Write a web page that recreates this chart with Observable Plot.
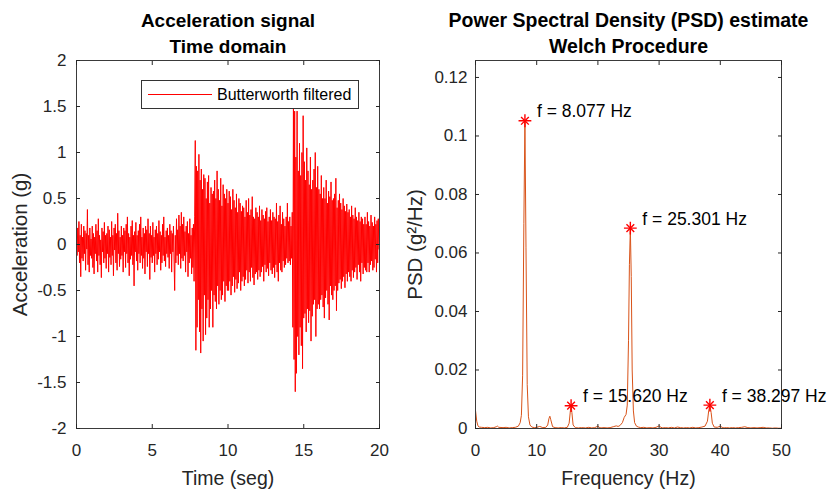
<!DOCTYPE html>
<html><head><meta charset="utf-8">
<script src="https://cdn.jsdelivr.net/npm/d3@7"></script>
<script src="https://cdn.jsdelivr.net/npm/@observablehq/plot@0.6"></script>
<style>
body{margin:0;background:#fff;}
#wrap{position:relative;width:829px;height:489px;overflow:hidden;font-family:"Liberation Sans",Arial,sans-serif;}
#left{position:absolute;left:0;top:0;}
#right{position:absolute;left:395px;top:0;}
#legend{position:absolute;left:141px;top:80px;width:216px;height:27px;border:1px solid #333;background:#fff;}
#legend .ln{position:absolute;left:6px;top:13px;width:64px;height:0;border-top:1px solid #ff0000;}
#legend .tx{position:absolute;left:75px;top:0;line-height:27px;font-size:16px;color:#000;white-space:nowrap;}
</style>
</head><body>
<div id="wrap"><div id="left"></div><div id="right"></div>
<div id="legend"><div class="ln"></div><div class="tx"></div></div></div>
<script>
// ---- Left panel: acceleration signal (sample step 0.04 s), values in g ----
const sampleStep = 0.04;
const accel = [
 0.05,-0.12,0.18,-0.08,0.25, -0.2,0.1,-0.35,0.22,-0.15, 0.08,-0.18,0.2,-0.1,0.15, -0.28,0.12,-0.05,0.38,-0.22, 0.1,-0.3,0.18,-0.12,0.06,
 -0.15,0.2,-0.25,0.12,-0.32, 0.08,-0.1,0.22,-0.18,0.15, -0.3,0.28,-0.12,0.1,-0.22, 0.05,-0.36,0.18,-0.08,0.14, -0.2,0.24,-0.15,0.1,-0.26,
 0.12,-0.1,0.2,-0.3,0.16, -0.14,0.08,-0.22,0.25,-0.12, 0.1,-0.34,0.18,-0.06,0.22, -0.2,0.12,-0.28,0.34,-0.1, 0.15,-0.24,0.08,-0.16,0.2,
 -0.12,0.1,-0.3,0.18,-0.08, 0.15,-0.25,0.22,-0.1,0.3, -0.2,0.12,-0.34,0.08,-0.16, 0.2,-0.12,0.26,-0.22,0.1, -0.45,0.14,-0.08,0.24,-0.18,
 0.1,-0.28,0.15,-0.1,0.22, -0.2,0.3,-0.12,0.08,-0.26, 0.18,-0.15,0.12,-0.32,0.2, -0.08,0.16,-0.24,0.28,-0.1, 0.12,-0.38,0.2,-0.14,0.1,
 -0.2,0.24,-0.12,0.08,-0.3, 0.16,-0.1,0.2,-0.22,0.12, -0.16,0.26,-0.08,0.14,-0.28, 0.1,-0.2,0.22,-0.12,0.3, -0.18,0.08,-0.24,0.15,-0.1,
 0.18,-0.14,0.1,-0.26,0.22, -0.1,0.15,-0.3,0.12,-0.08, 0.2,-0.18,-0.5,0.1,-0.2, 0.28,-0.12,0.16,-0.22,0.32, -0.1,0.2,-0.26,0.35,-0.15,
 0.22,-0.18,0.3,-0.12,0.14, -0.3,0.2,-0.08,0.25,-0.35, 0.12,-0.2,0.28,-0.15,0.1, -0.32,0.18,-0.25,0.22,-0.4, 0.3,1.13,-1.15,0.85,-0.9,
 0.8,-0.6,0.98,-0.95,0.7, -1.18,0.82,-0.7,0.6,-1.05, 0.76,-0.55,0.72,-0.98,0.5, -0.8,0.68,-0.6,0.75,-0.9, 0.45,-0.7,0.62,-0.5,0.55,
 -0.9,0.58,-0.55,0.7,-0.62, 0.5,-0.7,0.8,-0.45,0.6, -0.65,0.48,-0.5,0.72,-0.6, 0.42,-0.55,0.65,-0.4,0.55, -0.62,0.5,-0.45,0.6,-0.5,
 0.45,-0.5,0.58,-0.4,0.52, -0.55,0.38,-0.45,0.6,-0.35, 0.48,-0.52,0.4,-0.38,0.55, -0.48,0.35,-0.42,0.5,-0.3, 0.45,-0.5,0.36,-0.4,0.42,
 -0.35,0.4,-0.45,0.3,-0.38, 0.48,-0.28,0.35,-0.42,0.5, -0.3,0.32,-0.4,0.38,-0.25, 0.52,-0.36,0.3,-0.44,0.28, -0.32,0.4,-0.3,0.35,-0.38,
 0.3,-0.28,0.42,-0.35,0.26, -0.3,0.38,-0.24,0.32,-0.4, 0.28,-0.22,0.36,-0.3,0.4, -0.26,0.25,-0.34,0.3,-0.2, 0.38,-0.28,0.26,-0.32,0.35,
 -0.25,0.3,-0.36,0.28,-0.22, 0.45,-0.3,0.25,-0.4,0.32, -0.2,0.42,-0.28,0.22,-0.3, 0.35,-0.18,0.28,-0.25,0.2, -0.22,0.3,-0.15,0.45,-0.2,
 0.25,-0.18,0.3,-0.22,0.2, -0.15,0.35,-0.9,1.55,-1.25, 1.45,-1.6,0.95,-1.4,1.45, -1.0,0.8,-1.2,1.1,-0.9, 0.75,-1.1,1.0,-1.35,1.4,
 -0.8,0.9,-0.75,0.7,-0.95, 1.05,-0.7,0.8,-0.85,0.65, -0.72,0.95,-1.05,0.6,-0.78, 0.7,-0.65,0.82,-0.6,1.0, -1.0,0.62,-0.7,0.85,-0.65,
 0.6,-0.7,0.55,-0.6,0.75, -0.55,0.5,-0.68,0.62,-0.8, 0.5,-0.58,0.7,-0.5,0.45, -0.65,0.58,-0.82,0.52,-0.45, 0.68,-0.55,0.48,-0.6,0.5,
 -0.5,0.55,-0.45,0.72,-0.72, 0.4,-0.5,0.48,-0.42,0.55, -0.38,0.45,-0.48,0.38,-0.4, 0.5,-0.35,0.42,-0.47,0.36, -0.32,0.44,-0.4,0.35,-0.3,
 0.38,-0.35,0.3,-0.4,0.42, -0.28,0.32,-0.36,0.28,-0.3, 0.4,-0.25,0.3,-0.38,0.26, -0.22,0.35,-0.3,0.25,-0.4, 0.3,-0.2,0.28,-0.32,0.22,
 -0.25,0.3,-0.28,0.22,-0.3, 0.35,-0.2,0.25,-0.3,0.2, -0.22,0.32,-0.18,0.24,-0.28, 0.2,-0.25,0.3,-0.16,0.22, -0.3,0.26,-0.2,0.28,-0.05
];
const leftXTicks = [0, 5, 10, 15, 20];
const leftYTicks = [-2, -1.5, -1, -0.5, 0, 0.5, 1, 1.5, 2];
const leftTitle = ["Acceleration signal", "Time domain"];
const leftXLabel = "Time (seg)";
const leftYLabel = "Acceleration (g)";
const legendLabel = "Butterworth filtered";

// ---- Right panel: PSD (Welch) ----
const psdFreq = [
 0, 0.2, 0.4, 0.6, 1.0, 1.5, 2.0, 2.5, 3.0, 3.4,
 3.6, 3.8, 4.5, 5.0, 5.5, 6.0, 6.5, 7.0, 7.3, 7.5,
 7.7, 7.9, 8.077, 8.25, 8.45, 8.65, 8.9, 9.2, 9.6, 10.0,
 10.5, 11.0, 11.5, 11.8, 12.0, 12.15, 12.3, 12.6, 13.0, 13.5,
 14.0, 14.5, 15.0, 15.3, 15.5, 15.62, 15.75, 15.95, 16.3, 16.8,
 17.3, 18.0, 18.5, 19.0, 19.5, 20.0, 20.2, 20.5, 21.0, 21.5,
 22.0, 22.5, 23.0, 23.3, 23.6, 24.0, 24.3, 24.6, 24.8, 25.0,
 25.15, 25.301, 25.45, 25.6, 25.8, 26.0, 26.3, 26.6, 27.0, 27.5,
 28.0, 28.5, 29.0, 29.5, 30.0, 30.3, 30.6, 31.0, 31.5, 32.0,
 32.5, 33.0, 33.5, 34.0, 34.5, 35.0, 35.5, 36.0, 36.5, 37.0,
 37.5, 37.9, 38.1, 38.297, 38.5, 38.7, 39.0, 39.5, 40.0, 40.3,
 40.6, 41.0, 41.5, 42.0, 42.5, 43.0, 43.5, 44.0, 44.5, 45.0,
 45.5, 46.0, 46.5, 47.0, 47.5, 48.0, 48.5, 49.0, 49.5, 50.0
];
const psdValue = [
 0.0062, 0.0025, 0.0009, 0.0005, 0.0004, 0.0003, 0.0004, 0.0002, 0.0003, 0.0006,
 0.0008, 0.0004, 0.0003, 0.0004, 0.0002, 0.0003, 0.0004, 0.0008, 0.0020, 0.0045,
 0.0180, 0.0700, 0.1052, 0.0620, 0.0150, 0.0040, 0.0012, 0.0005, 0.0003, 0.0004,
 0.0007, 0.0003, 0.0004, 0.0012, 0.0034, 0.0042, 0.0030, 0.0006, 0.0003, 0.0002,
 0.0003, 0.0002, 0.0004, 0.0018, 0.0060, 0.0078, 0.0055, 0.0012, 0.0003, 0.0002,
 0.0003, 0.0002, 0.0004, 0.0002, 0.0003, 0.0008, 0.0004, 0.0002, 0.0003, 0.0002,
 0.0003, 0.0006, 0.0009, 0.0007, 0.0010, 0.0020, 0.0038, 0.0048, 0.0080, 0.0300,
 0.0560, 0.0685, 0.0520, 0.0200, 0.0060, 0.0020, 0.0008, 0.0005, 0.0003, 0.0004,
 0.0002, 0.0003, 0.0002, 0.0004, 0.0009, 0.0004, 0.0002, 0.0003, 0.0002, 0.0004,
 0.0002, 0.0005, 0.0003, 0.0002, 0.0003, 0.0002, 0.0004, 0.0002, 0.0003, 0.0005,
 0.0008, 0.0025, 0.0060, 0.0080, 0.0055, 0.0018, 0.0005, 0.0004, 0.0008, 0.0004,
 0.0002, 0.0003, 0.0002, 0.0003, 0.0002, 0.0003, 0.0004, 0.0006, 0.0003, 0.0002,
 0.0003, 0.0002, 0.0003, 0.0004, 0.0002, 0.0002, 0.0001, 0.0002, 0.0001, 0.0001
];
const peakFreq = [8.077, 15.620, 25.301, 38.297];
const peakPsd = [0.1052, 0.0078, 0.0685, 0.0080];
const rightXTicks = [0, 10, 20, 30, 40, 50];
const rightYTicks = [0, 0.02, 0.04, 0.06, 0.08, 0.1, 0.12];
const rightTitle = ["Power Spectral Density (PSD) estimate", "Welch Procedure"];
const rightXLabel = "Frequency (Hz)";
const rightYLabel = "PSD (g\u00B2/Hz)";

// ---- build ----
const FONT = '"Liberation Sans", Arial, Helvetica, sans-serif';
const INK = "#262626";
const accelData = accel.map((v, i) => ({t: i * sampleStep, a: v}));
const psdData = psdFreq.map((f, i) => ({f, p: psdValue[i]}));
const peaks = peakFreq.map((f, i) => ({f, p: peakPsd[i]}));

function boxAxes(xt, yt, ypad, fmtY) {
  return [
    Plot.frame({stroke: "#3a3a3a", strokeWidth: 1}),
    Plot.axisX(xt, {anchor: "bottom", tickSize: -4, tickPadding: 19, tickFormat: d => String(d), label: null, stroke: INK, fill: INK}),
    Plot.axisX(xt, {anchor: "top", tickSize: -4, tickFormat: () => "", label: null, stroke: INK}),
    Plot.axisY(yt, {anchor: "left", tickSize: -4, tickPadding: ypad, tickFormat: fmtY, label: null, stroke: INK, fill: INK}),
    Plot.axisY(yt, {anchor: "right", tickSize: -4, tickFormat: () => "", label: null, stroke: INK})
  ];
}
function titles(t, size) {
  return [
    Plot.text([t[0]], {frameAnchor: "top", lineAnchor: "middle", dy: -40, fontWeight: "bold", fontSize: size, fill: "#000"}),
    Plot.text([t[1]], {frameAnchor: "top", lineAnchor: "middle", dy: -14, fontWeight: "bold", fontSize: size, fill: "#000"})
  ];
}

const left = Plot.plot({
  width: 395, height: 489,
  marginLeft: 76, marginRight: 16, marginTop: 60, marginBottom: 61,
  style: {fontFamily: FONT, fontSize: "17px", color: INK, background: "transparent", overflow: "visible"},
  x: {domain: [0, 20]},
  y: {domain: [-2, 2]},
  marks: [
    Plot.line(accelData, {x: "t", y: "a", stroke: "#ff0000", strokeWidth: 1, clip: true}),
    ...boxAxes(leftXTicks, leftYTicks, 14, d => String(d)),
    ...titles(leftTitle, 19),
    Plot.text([leftXLabel], {frameAnchor: "bottom", lineAnchor: "middle", dy: 50, fontSize: 19.5}),
    Plot.text([leftYLabel], {frameAnchor: "left", lineAnchor: "middle", dx: -56, rotate: -90, textAnchor: "middle", fontSize: 20.5})
  ]
});
document.getElementById("left").appendChild(left);

const right = Plot.plot({
  width: 434, height: 489,
  marginLeft: 80, marginRight: 48, marginTop: 60, marginBottom: 61,
  style: {fontFamily: FONT, fontSize: "17px", color: INK, background: "transparent", overflow: "visible"},
  x: {domain: [0, 50]},
  y: {domain: [0, 0.1258]},
  marks: [
    Plot.line(psdData, {x: "f", y: "p", stroke: "#D95319", strokeWidth: 1, clip: true}),
    ...boxAxes(rightXTicks, rightYTicks, 12, d => String(d)),
    Plot.dot(peaks, {x: "f", y: "p", symbol: "plus", r: 4.2, stroke: "#ff0000", strokeWidth: 1.4}),
    Plot.dot(peaks, {x: "f", y: "p", symbol: "times", r: 3.6, stroke: "#ff0000", strokeWidth: 1.4}),
    Plot.text(peaks, {x: "f", y: "p", text: d => `f = ${d.f.toFixed(3)} Hz`, dx: 12, dy: -9, textAnchor: "start", fontSize: 17.5, fill: "#000"}),
    ...titles(rightTitle, 19.5),
    Plot.text([rightXLabel], {frameAnchor: "bottom", lineAnchor: "middle", dy: 50, fontSize: 19.5}),
    Plot.text([rightYLabel], {frameAnchor: "left", lineAnchor: "middle", dx: -60, rotate: -90, textAnchor: "middle", fontSize: 20.5})
  ]
});
document.getElementById("right").appendChild(right);

document.querySelector("#legend .tx").textContent = legendLabel;
</script>
</body></html>
